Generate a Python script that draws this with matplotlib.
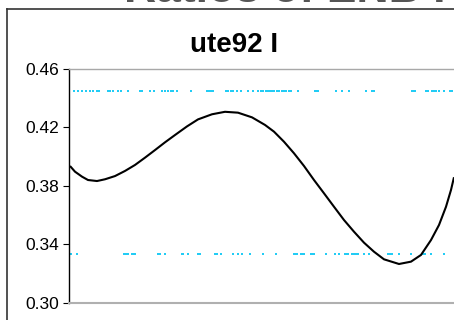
import numpy as np
import matplotlib
matplotlib.use("Agg")
import matplotlib.pyplot as plt
from matplotlib.lines import Line2D

plt.rcParams['font.family'] = ['Liberation Sans', 'DejaVu Sans']

# curve (x = offset from left axis, plot runs 0..385)
curve_x = [1, 6, 13, 19, 28, 36, 46, 56, 66, 76, 86, 96, 106, 118, 129, 143,
           156, 169, 183, 196, 205, 215, 225, 235, 245, 255, 265, 275, 285,
           295, 305, 315, 330, 342, 352, 362, 370, 377, 382, 385]
curve_y = [0.3936, 0.3897, 0.3863, 0.3840, 0.3833, 0.3845, 0.3867, 0.3902,
           0.3943, 0.3993, 0.4045, 0.4098, 0.4148, 0.4207, 0.4255, 0.4290,
           0.4307, 0.4301, 0.4269, 0.4217, 0.4171, 0.4102, 0.4023, 0.3936,
           0.3840, 0.3749, 0.3657, 0.3566, 0.3486, 0.3411, 0.3349, 0.3297,
           0.3265, 0.3281, 0.3327, 0.3429, 0.3532, 0.3657, 0.3772, 0.3859]

# cyan dotted limits, the dots are irregular in the picture
upper_level = 0.445
lower_level = 0.333
upper_px = [74, 78, 82, 86, 90, 93, 97, 99, 108, 110, 113, 118, 121, 128, 140,
            142, 150, 154, 162, 165, 168, 171, 173, 177, 191, 207, 208, 210,
            212, 213, 226, 228, 231, 233, 237, 241, 248, 253, 258, 261, 263,
            266, 268, 270, 272, 274, 277, 279, 282, 284, 286, 289, 291, 298,
            315, 317, 318, 336, 342, 349, 366, 372, 374, 412, 413, 415, 426,
            428, 432, 434, 436, 439, 444, 450, 452]
lower_px = [71, 77, 124, 126, 128, 132, 133, 135, 158, 160, 165, 182, 183, 188,
            198, 200, 215, 217, 221, 233, 238, 242, 250, 263, 276, 294, 296,
            297, 301, 302, 304, 311, 312, 314, 326, 335, 339, 345, 346, 348,
            352, 353, 355, 357, 358, 364, 369, 388, 390, 392, 399, 411, 423,
            425, 431, 444]
axis_left_px = 69

yticks = [0.30, 0.34, 0.38, 0.42, 0.46]
ytick_labels = ['0.30', '0.34', '0.38', '0.42', '0.46']

fig = plt.figure(figsize=(4.54, 3.2), dpi=100)
ax = fig.add_axes([69 / 454, 1 - 302.7 / 320, 1 - 69 / 454, (302.7 - 69) / 320])

ux = np.array(upper_px) - axis_left_px
lx = np.array(lower_px) - axis_left_px
ax.plot(ux, [upper_level] * len(ux), 's', color='#22CCF5', ms=1.6, mew=0)
ax.plot(lx, [lower_level] * len(lx), 's', color='#22CCF5', ms=1.6, mew=0)
ax.plot(curve_x, curve_y, color='black', lw=1.5, solid_joinstyle='round',
        solid_capstyle='butt')

ax.set_xlim(0, 385)
ax.set_ylim(0.30, 0.46)
ax.set_yticks(yticks)
ax.set_yticklabels(ytick_labels, fontsize=12.5)
ax.set_xticks([])
ax.tick_params(axis='y', direction='out', length=4.3, width=0.8, pad=3)

ax.spines['right'].set_visible(False)
ax.spines['left'].set_color('black')
ax.spines['left'].set_linewidth(1.0)
ax.spines['top'].set_color('#A8A8A8')
ax.spines['top'].set_linewidth(1.0)
ax.spines['bottom'].set_color('#B0B0B0')
ax.spines['bottom'].set_linewidth(1.5)

fig.text(234 / 454, 1 - 45 / 320, 'ute92 I', fontsize=20, fontweight='bold',
         ha='center', va='center')

# big chart title, mostly cut off by the top edge in the reference
fig.text(285 / 454, 1 - 2 / 320, 'Ratios of ENB I', fontsize=32,
         fontweight='bold', color='#555555', ha='center', va='baseline')

# chart area border
fig.add_artist(Line2D([7 / 454, 7 / 454], [0, 1 - 9 / 320],
                      transform=fig.transFigure, color='#333333', lw=1.2))
fig.add_artist(Line2D([7 / 454, 1], [1 - 9 / 320, 1 - 9 / 320],
                      transform=fig.transFigure, color='#333333', lw=1.2))

fig.savefig('out.png', dpi=100)
